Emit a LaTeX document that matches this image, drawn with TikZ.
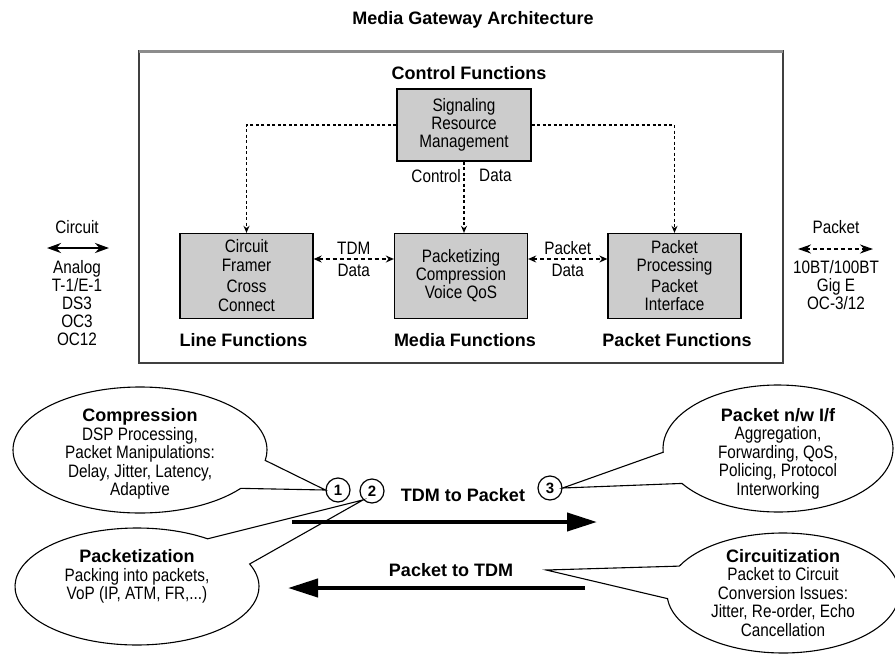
\documentclass[tikz,border=0pt]{standalone}
\usepackage{fontspec}
\setmainfont{Liberation Sans}
\newfontfamily\narrowfont{Liberation Sans}[FakeStretch=0.85]
\usetikzlibrary{arrows.meta,shapes.callouts}
\newcommand{\bubblehead}[1]{{\normalfont\bfseries #1}}

\begin{document}
\begin{tikzpicture}[x=1pt, y=-1pt,
    txt/.style={font=\narrowfont\fontsize{18}{18}\selectfont, align=center, inner sep=0pt},
    hdr/.style={font=\bfseries\fontsize{18}{18}\selectfont, inner sep=0pt},
    fbox/.style={txt, draw, line width=1.3pt, fill=black!20, minimum width=133pt, minimum height=85pt},
    ctl/.style={line width=1.2pt, dash pattern=on 3pt off 2.5pt, -{Stealth[length=7pt,width=6pt]}},
    dat/.style={line width=1.2pt, dash pattern=on 4pt off 3pt, {Stealth[length=8pt,width=7pt]}-{Stealth[length=8pt,width=7pt]}},
    bubble/.style={ellipse callout, draw, line width=1.1pt},
    btxt/.style={font=\narrowfont\fontsize{18}{18.5}\selectfont, align=center, inner sep=0pt},
    num/.style={circle, draw, line width=1.2pt, minimum size=24pt, inner sep=0pt, font=\bfseries\fontsize{15}{15}\selectfont},
    flow/.style={line width=4pt, -{Triangle[length=30pt,width=18pt]}}
]
\useasboundingbox (0,0) rectangle (895,654);

    %-------------------------
    % Gateway
    %-------------------------
    \node[hdr] (title) at (473,20) {Media Gateway Architecture};
    \draw[line width=1.5pt, black!75] (139,51) rectangle (783,363);
    \draw[line width=3pt, black!45] (139,51) -- (783,51);
    \node[hdr] (ctlf) at (469,73) {Control Functions};

    \node[fbox, minimum width=134pt, minimum height=72pt] (sig) at (464,125) {Signaling\\Resource\\Management};
    \node[fbox] (circ) at (246.5,276) {Circuit\\[1pt]Framer\\[3pt]Cross\\[1pt]Connect};
    \node[fbox] (media) at (461,276) {Packetizing\\Compression\\Voice QoS};
    \node[fbox] (pkt) at (674.5,276) {Packet\\Processing\\[3pt]Packet\\Interface};

    % control paths
    \draw[ctl] (sig.west) -| (circ.north);
    \draw[ctl] (sig.east) -| (pkt.north);
    \draw[ctl] (sig.south) -- (sig.south |- media.north);
    \node[txt, anchor=east] (ctllbl) at ([xshift=-3pt,yshift=-14pt]sig.south) {Control};
    \node[txt, anchor=west] (datlbl) at ([xshift=15pt,yshift=-14pt]sig.south) {Data};

    % data paths
    \draw[dat] ([yshift=17pt]circ.east) -- ([yshift=17pt]media.west)
        node[txt, midway, above=4pt] (tdmlbl) {TDM}
        node[txt, midway, below=5pt] (tdmdat) {Data};
    \draw[dat] ([yshift=17pt]media.east) -- ([yshift=17pt]pkt.west)
        node[txt, midway, above=4pt] (pktlbl) {Packet}
        node[txt, midway, below=5pt] (pktdat) {Data};

    \node[hdr] (linef) at (243.5,340) {Line Functions};
    \node[hdr] (mediaf) at (465,340) {Media Functions};
    \node[hdr] (pktf) at (677,340) {Packet Functions};

    %-------------------------
    % Interfaces
    %-------------------------
    \node[txt] (cirlbl) at (77,227) {Circuit};
    \coordinate (cl) at (47,248);
    \coordinate (cr) at (109,248);
    \draw[line width=2.5pt, {Stealth[length=14pt,width=10pt]}-{Stealth[length=14pt,width=10pt]}] (cl) -- (cr);
    \node[txt] (cirlist) at (77,303) {Analog\\T-1/E-1\\DS3\\OC3\\OC12};

    \node[txt] (pktif) at (836,227) {Packet};
    \coordinate (pl) at (798,249);
    \coordinate (pr) at (873,249);
    \draw[dat, line width=2pt, {Stealth[length=13pt,width=9pt]}-{Stealth[length=13pt,width=9pt]}] (pl) -- (pr);
    \node[txt] (pktlist) at (836,285.5) {10BT/100BT\\Gig E\\OC-3/12};

    %-------------------------
    % Conversion
    %-------------------------
    \node[num] (n1) at (338,490) {1};
    \node[num] (n2) at (372,491) {2};
    \node[num] (n3) at (550,488) {3};

    \node[hdr] (t2p) at (463,495) {TDM to Packet};
    \node[hdr] (p2t) at (451,570) {Packet to TDM};
    \coordinate (t2pa) at (292,522);
    \coordinate (t2pb) at (597,522);
    \draw[flow] (t2pa) -- (t2pb);
    \coordinate (p2ta) at (585,588);
    \coordinate (p2tb) at (288,588);
    \draw[flow] (p2ta) -- (p2tb);

    % callouts
    \node[bubble, minimum width=254pt, minimum height=126pt, callout absolute pointer={(n1.west)}, callout pointer arc=28] (comp) at (140,450) {};
    \node[btxt] (comptxt) at ([yshift=-4pt]comp.center) {\bubblehead{Compression}\\DSP Processing,\\Packet Manipulations:\\Delay, Jitter, Latency,\\Adaptive};

    \node[bubble, minimum width=244pt, minimum height=117pt, callout absolute pointer={(n2.south west)}, callout pointer arc=32] (pkz) at (137,586.5) {};
    \node[btxt] (pkztxt) at ([yshift=10pt]pkz.center) {\bubblehead{Packetization}\\Packing into packets,\\VoP (IP, ATM, FR,...)};

    \node[bubble, minimum width=230pt, minimum height=127pt, callout absolute pointer={(n3.east)}, callout pointer arc=30] (pnw) at (778,448.5) {};
    \node[btxt] (pnwtxt) at ([yshift=-5pt]pnw.center) {\bubblehead{Packet n/w I/f}\\Aggregation,\\Forwarding, QoS,\\Policing, Protocol\\Interworking};

    \coordinate (cztip) at ([xshift=33pt]p2t.east);
    \node[bubble, minimum width=232pt, minimum height=120pt, callout absolute pointer={(cztip)}, callout pointer arc=32] (cz) at (783,593) {};
    \node[btxt] (cztxt) at (cz.center) {\bubblehead{Circuitization}\\Packet to Circuit\\Conversion Issues:\\Jitter, Re-order, Echo\\Cancellation};

\end{tikzpicture}
\end{document}
